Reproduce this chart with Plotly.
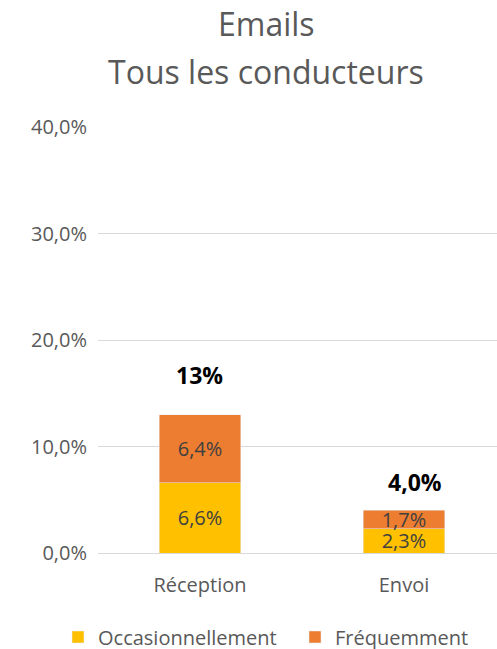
import plotly.graph_objects as go

categories = ["Réception", "Envoi"]
occasionnellement = [6.6, 2.3]
frequemment = [6.4, 1.7]
total_labels = ["13%", "4,0%"]
title_lines = ["Emails", "Tous les conducteurs"]

y_ticks = [0, 10, 20, 30, 40]
y_ticktext = ["0,0%", "10,0%", "20,0%", "30,0%", "40,0%"]

FONT = "Open Sans"
GREY = "#595959"


def segment(name, values, color, legend):
    return go.Bar(
        name=name,
        x=categories,
        y=values,
        marker_color=color,
        texttemplate="%{y:.1f}%",
        textposition="inside",
        insidetextanchor="middle",
        constraintext="none",
        textfont=dict(color="#404040", size=20, family=FONT),
        width=0.4,
        legend=legend,
        showlegend=True,
    )


fig = go.Figure()
fig.add_trace(segment("Occasionnellement", occasionnellement, "#FFC000", "legend"))
fig.add_trace(segment("Fréquemment", frequemment, "#ED7D31", "legend2"))

# totals above the stacked bars
totals = [a + b for a, b in zip(occasionnellement, frequemment)]
shifts = [(0, 40), (11, 28)]
for cat, tot, lab, (xs, ys) in zip(categories, totals, total_labels, shifts):
    fig.add_annotation(
        x=cat,
        y=tot,
        text=f"<b>{lab}</b>",
        showarrow=False,
        xshift=xs,
        yshift=ys,
        font=dict(size=23, color="black", family=FONT),
    )

# two-line title, placed line by line
for line, py in zip(title_lines, [24, 71]):
    fig.add_annotation(
        text=line,
        xref="paper",
        yref="paper",
        x=(266 - 98) / 399,
        y=(553 - py) / 426,
        xanchor="center",
        yanchor="middle",
        showarrow=False,
        font=dict(size=32, color=GREY, family=FONT),
    )

legend_style = dict(
    orientation="h",
    xref="container",
    yref="container",
    xanchor="left",
    y=1 - 637 / 649,
    yanchor="middle",
    font=dict(size=20, color=GREY),
    itemwidth=30,
)

fig.update_layout(
    barmode="stack",
    width=497,
    height=649,
    showlegend=True,
    margin=dict(l=98, r=0, t=127, b=96, autoexpand=False),
    paper_bgcolor="white",
    plot_bgcolor="white",
    separators=", ",
    font=dict(family=FONT, color=GREY),
    xaxis=dict(
        range=[-0.5, 1.456],
        showgrid=False,
        showline=False,
        ticks="",
        ticklabelstandoff=18,
        tickfont=dict(size=20, color=GREY),
    ),
    yaxis=dict(
        range=[0, 40],
        tickvals=y_ticks,
        ticktext=y_ticktext,
        showgrid=True,
        gridcolor="#D9D9D9",
        gridwidth=1,
        zeroline=True,
        zerolinecolor="#D9D9D9",
        zerolinewidth=1,
        ticklabelstandoff=10,
        tickfont=dict(size=20, color=GREY),
    ),
    legend=dict(x=58 / 497, **legend_style),
    legend2=dict(x=295 / 497, **legend_style),
)

fig.write_html(
    "out.html",
    config={"displayModeBar": False},
    post_script="document.body.style.margin='0';",
)
